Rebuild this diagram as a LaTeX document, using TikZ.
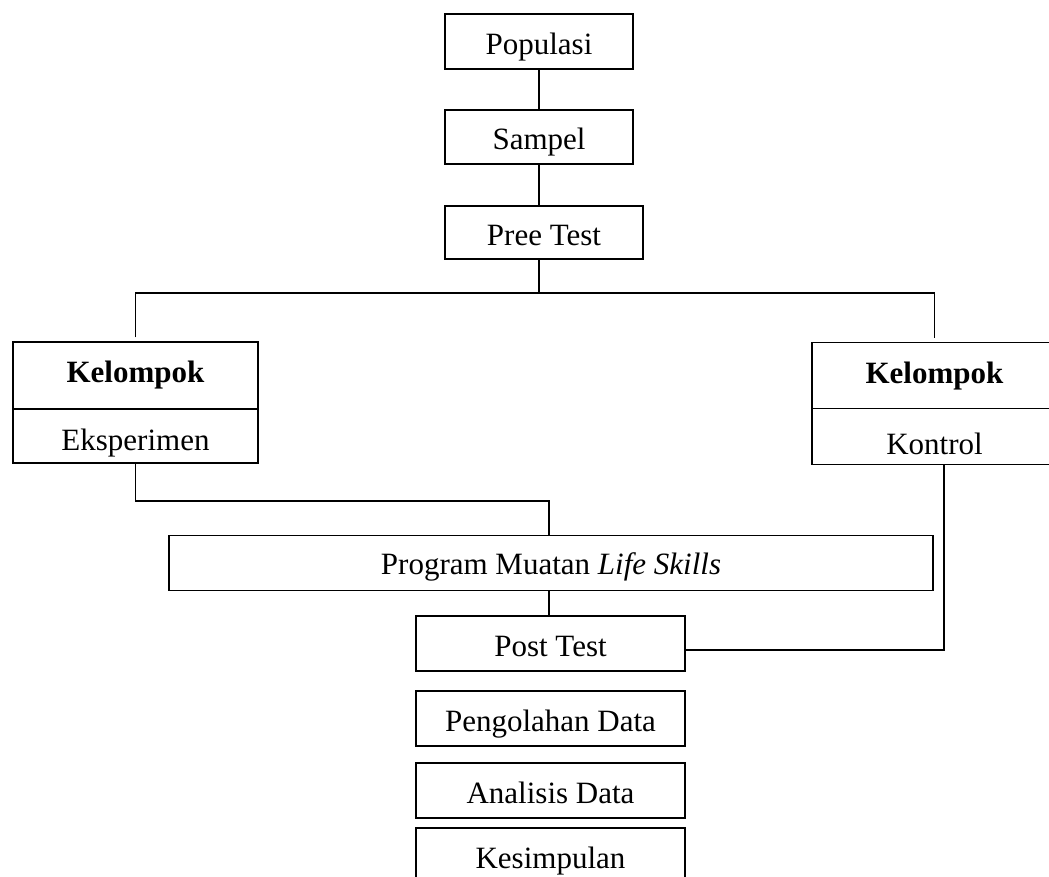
\documentclass[tikz,border=0pt]{standalone}
\usepackage{fontspec}
\setmainfont{Liberation Serif}
\begin{document}
\begin{tikzpicture}[x=1pt,y=-1pt,
  box/.style={draw, line width=1.5pt, inner sep=0pt, rectangle,
    font=\fontsize{31}{36}\selectfont, text height=26pt, text depth=0pt},
  conn/.style={line width=1.5pt}
]
\useasboundingbox (0,0) rectangle (1049,877);
% top chain
\node[box, minimum width=188pt, minimum height=55pt] (pop) at (539,41.5) {Populasi};
\node[box, minimum width=188pt, minimum height=54pt] (samp) at (539,137) {Sampel};
\node[box, minimum width=198pt, minimum height=53pt] (pre) at (544,232.5) {Pree Test};
% groups
\node[box, minimum width=245pt, minimum height=67pt, text height=14pt] (kel1) at (135.5,375.5) {\textbf{Kelompok}};
\node[box, minimum width=245pt, minimum height=54pt, text height=28pt] (eks) at (135.5,436) {Eksperimen};
\node[box, minimum width=245pt, minimum height=66pt, text height=15pt] (kel2) at (934.5,375.5) {\textbf{Kelompok}};
\node[box, minimum width=245pt, minimum height=56pt, text height=35pt] (kon) at (934.5,436.5) {Kontrol};
% program and after
\node[box, minimum width=764pt, minimum height=55pt, text height=23pt] (prog) at (551,563) {Program Muatan \textit{Life Skills}};
\node[box, minimum width=269pt, minimum height=55pt] (post) at (550.5,643.5) {Post Test};
\node[box, minimum width=269pt, minimum height=55pt] (peng) at (550.5,718.5) {Pengolahan Data};
\node[box, minimum width=269pt, minimum height=55pt] (anal) at (550.5,790.5) {Analisis Data};
\node[box, minimum width=269pt, minimum height=55pt] (kes) at (550.5,855.5) {Kesimpulan};
% connectors
\coordinate (j1) at (539,293);
\coordinate (j2) at (549,501);
\coordinate (j3) at (944,650);
\draw[conn] (pop.south) -- (samp.north);
\draw[conn] (samp.south) -- (samp.south |- pre.north);
\draw[conn] (j1 |- pre.south) -- (j1);
\draw[conn, shorten <=4pt, shorten >=4pt] (kel1.north) |- (j1) -| (kel2.north);
\draw[conn] (eks.south) |- (j2) -- (j2 |- prog.north);
\draw[conn] (j2 |- prog.south) -- (j2 |- post.north);
\draw[conn] (j3 |- kon.south) -- (j3) -- (post.east |- j3);
\end{tikzpicture}
\end{document}
